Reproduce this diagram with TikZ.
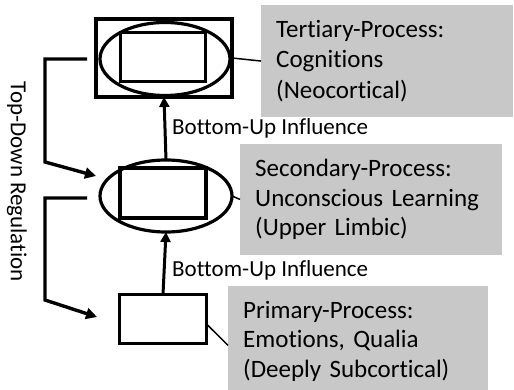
\documentclass[tikz,border=0pt]{standalone}
\usepackage{fontspec}
\setmainfont[Ligatures=NoCommon]{Carlito}
\usetikzlibrary{shapes.geometric,arrows.meta}
\definecolor{boxgray}{RGB}{200,200,200}
\begin{document}
\begin{tikzpicture}[x=1pt,y=-1pt,
  level/.style={draw,line width=3.2pt,inner sep=0pt,outer sep=0pt},
  levelrect/.style={level,rectangle},
  levelell/.style={level,ellipse},
  graybox/.style={fill=boxgray,anchor=north west,inner sep=15pt,align=left,
    font=\fontsize{25}{29.5}\selectfont},
  link/.style={line width=1.5pt},
  upflow/.style={line width=3pt,-{Triangle[length=10pt,width=10pt]}},
  downflow/.style={line width=3.4pt,-{Triangle[length=11pt,width=11pt]}},
  caption/.style={font=\fontsize{23}{27}\selectfont,inner sep=0pt}
]
\useasboundingbox (0,0) rectangle (514,390);

% tertiary level: box, ellipse and inner rectangle
\node[levelrect,minimum width=136pt,minimum height=78pt] (topbox) at (164,58) {};
\node[levelell,minimum width=130pt,minimum height=73pt] (topell) at (165,59) {};
\node[levelrect,minimum width=85pt,minimum height=49pt] (topin) at (163,57) {};

% secondary level: ellipse and inner rectangle
\node[levelell,minimum width=132pt,minimum height=72pt] (midell) at (166,196) {};
\node[levelrect,minimum width=86pt,minimum height=50pt] (midin) at (163,193) {};

% primary level
\node[levelrect,minimum width=87pt,minimum height=49pt] (lowbox) at (163,319) {};

% descriptions
\node[graybox,minimum width=252pt,minimum height=106pt,text width=222pt,
  font=\fontsize{25}{30.5}\selectfont] (tert) at (261,5)
  {Tertiary-Process:\\Cognitions\\(Neocortical)};
\node[graybox,minimum width=262pt,minimum height=106pt,text width=232pt] (sec) at (240,144)
  {Secondary-Process:\\Unconscious Learning\\(Upper Limbic)};
\node[graybox,minimum width=260pt,minimum height=102pt,text width=230pt] (prim) at (228,286)
  {Primary-Process:\\Emotions, Qualia\\(Deeply Subcortical)};

\draw[link] (topbox.east) -- (tert.west);
\draw[link] (midell.east) -- (sec.west);
\draw[link] ([yshift=-5pt]lowbox.east) -- ([yshift=-4pt]prim.west);

% bottom-up influence
\draw[upflow] (midell.north) -- (topbox.south);
\draw[upflow] (lowbox.north) -- (midell.south);
\node[caption,anchor=west] (bu1) at (172,128) {Bottom-Up Influence};
\node[caption,anchor=west] (bu2) at (172,270) {Bottom-Up Influence};

% top-down regulation
\coordinate (td1) at (87,59);
\coordinate (td2) at (87,198);
\coordinate (td1end) at (96,176);
\coordinate (td2end) at (97,317);
\draw[downflow] (td1) -- (45,59) -- (45,162) -- (td1end);
\draw[downflow] (td2) -- (45,198) -- (45,300) -- (td2end);
\node[caption,rotate=-90] (tdlabel) at (17,182) {Top-Down Regulation};
\end{tikzpicture}
\end{document}
